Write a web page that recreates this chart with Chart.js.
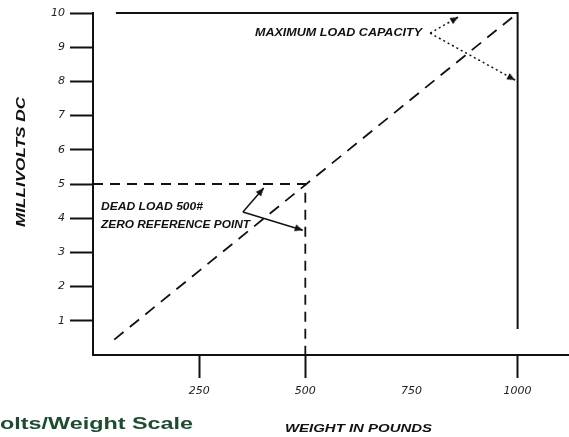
<!DOCTYPE html>
<html>
<head>
<meta charset="utf-8">
<script src="https://cdn.jsdelivr.net/npm/chart.js@4.4.1/dist/chart.umd.min.js"></script>
<style>
  html, body { margin: 0; padding: 0; background: #fff; overflow: hidden; }
</style>
</head>
<body>
<canvas id="c" width="569" height="437"></canvas>
<script>
// tick values
const xTicks = [250, 500, 750, 1000];
const yTicks = [1, 2, 3, 4, 5, 6, 7, 8, 9, 10];
const xNoTick = [750];

// lines (pounds, millivolts)
const calibLine = [{x: 50, y: 0.45}, {x: 1000, y: 10}];
const deadLoad = [{x: 0, y: 5}, {x: 500, y: 5}, {x: 500, y: 0}];
const maxLoad = [{x: 54, y: 10}, {x: 1000, y: 10}, {x: 1000, y: 0.76}];
const maxArrowUp = [{x: 794, y: 9.41}, {x: 860, y: 9.88}];
const maxArrowDown = [{x: 794, y: 9.41}, {x: 994, y: 8.04}];
const deadArrowUp = [{x: 353, y: 4.18}, {x: 402, y: 4.88}];
const deadArrowDown = [{x: 353, y: 4.18}, {x: 494, y: 3.65}];

const ink = '#111';

// arrowhead image: tip at the centre, pointing up (rotation turns it)
const head = document.createElement('canvas');
head.width = 8;
head.height = 18;
(function () {
    const g = head.getContext('2d');
    g.fillStyle = ink;
    g.beginPath();
    g.moveTo(4, 9);
    g.lineTo(7.5, 17);
    g.lineTo(0.5, 17);
    g.closePath();
    g.fill();
})();

function line(data, dash, width) {
    return {
        data: data,
        showLine: true,
        borderColor: ink,
        borderWidth: width || 2,
        borderDash: dash || [],
        pointRadius: 0,
        fill: false,
        clip: false,
    };
}

function arrow(data, dash, rot) {
    const ds = line(data, dash, 1.5);
    ds.pointRadius = [0, 5];
    ds.pointStyle = head;
    ds.rotation = [0, rot];
    return ds;
}

// draw text squeezed/stretched to a given width
function fitText(ctx, str, x, y, w, font, color, rotate) {
    ctx.save();
    ctx.font = font;
    ctx.fillStyle = color;
    ctx.textAlign = 'left';
    ctx.textBaseline = 'alphabetic';
    const m = ctx.measureText(str).width;
    ctx.translate(x, y);
    if (rotate) ctx.rotate(-Math.PI / 2);
    ctx.scale(w / m, 1);
    ctx.fillText(str, 0, 0);
    ctx.restore();
}

const textPlugin = {
    id: 'texts',
    afterDraw(chart) {
        const ctx = chart.ctx;
        const lbl = 'bold italic 10px Arial';
        fitText(ctx, 'MAXIMUM LOAD CAPACITY', 255, 36, 167, lbl, ink);
        fitText(ctx, 'DEAD LOAD 500#', 101, 210, 102, lbl, ink);
        fitText(ctx, 'ZERO REFERENCE POINT', 101, 228, 149, lbl, ink);
        fitText(ctx, 'WEIGHT IN POUNDS', 285, 432, 147, 'bold italic 11px Arial', ink);
        fitText(ctx, 'MILLIVOLTS DC', 25, 227, 130, 'bold italic 12px Arial', ink, true);

        // title, cut off at the left edge
        ctx.save();
        ctx.font = 'bold 16px Arial';
        const full = 'Millivolts/Weight Scale';
        const sx = 193 / ctx.measureText('olts/Weight Scale').width;
        const fw = ctx.measureText(full).width * sx;
        ctx.restore();
        fitText(ctx, full, 193 - fw, 429, fw, 'bold 16px Arial', '#1b4d2e');
    }
};

const tickFont = {family: 'DejaVu Sans', size: 11, style: 'italic'};

new Chart(document.getElementById('c'), {
    type: 'scatter',
    data: {
        datasets: [
            line(calibLine, [12, 8], 1.8),
            line(deadLoad, [10, 7], 1.8),
            line(maxLoad, [], 2),
            arrow(maxArrowUp, [2, 3], 60),
            arrow(maxArrowDown, [2, 3], 118),
            arrow(deadArrowUp, [], 41),
            arrow(deadArrowDown, [], 107),
        ]
    },
    options: {
        responsive: false,
        animation: false,
        layout: {autoPadding: false, padding: {top: 13, right: 0, bottom: 0, left: 0}},
        plugins: {
            legend: {display: false},
            tooltip: {enabled: false},
        },
        scales: {
            x: {
                type: 'linear',
                min: 0,
                max: 1121,
                afterBuildTicks: s => { s.ticks = xTicks.map(v => ({value: v})); },
                afterFit: s => { s.height = 82; },
                grid: {
                    drawOnChartArea: false,
                    tickLength: 23,
                    tickWidth: 2,
                    tickColor: c => xNoTick.includes(c.tick && c.tick.value) ? 'rgba(0,0,0,0)' : ink,
                },
                border: {color: ink, width: 2},
                ticks: {
                    font: tickFont, color: '#222', padding: 7, maxRotation: 0, autoSkip: false,
                    callback: v => String(v),
                },
            },
            y: {
                min: 0,
                max: 10,
                afterBuildTicks: s => { s.ticks = yTicks.map(v => ({value: v})); },
                afterFit: s => { s.width = 93; },
                grid: {drawOnChartArea: false, tickLength: 23, tickWidth: 2, tickColor: ink},
                border: {color: ink, width: 2},
                ticks: {font: tickFont, color: '#222', padding: 5, autoSkip: false},
            }
        }
    },
    plugins: [textPlugin]
});
</script>
</body>
</html>
